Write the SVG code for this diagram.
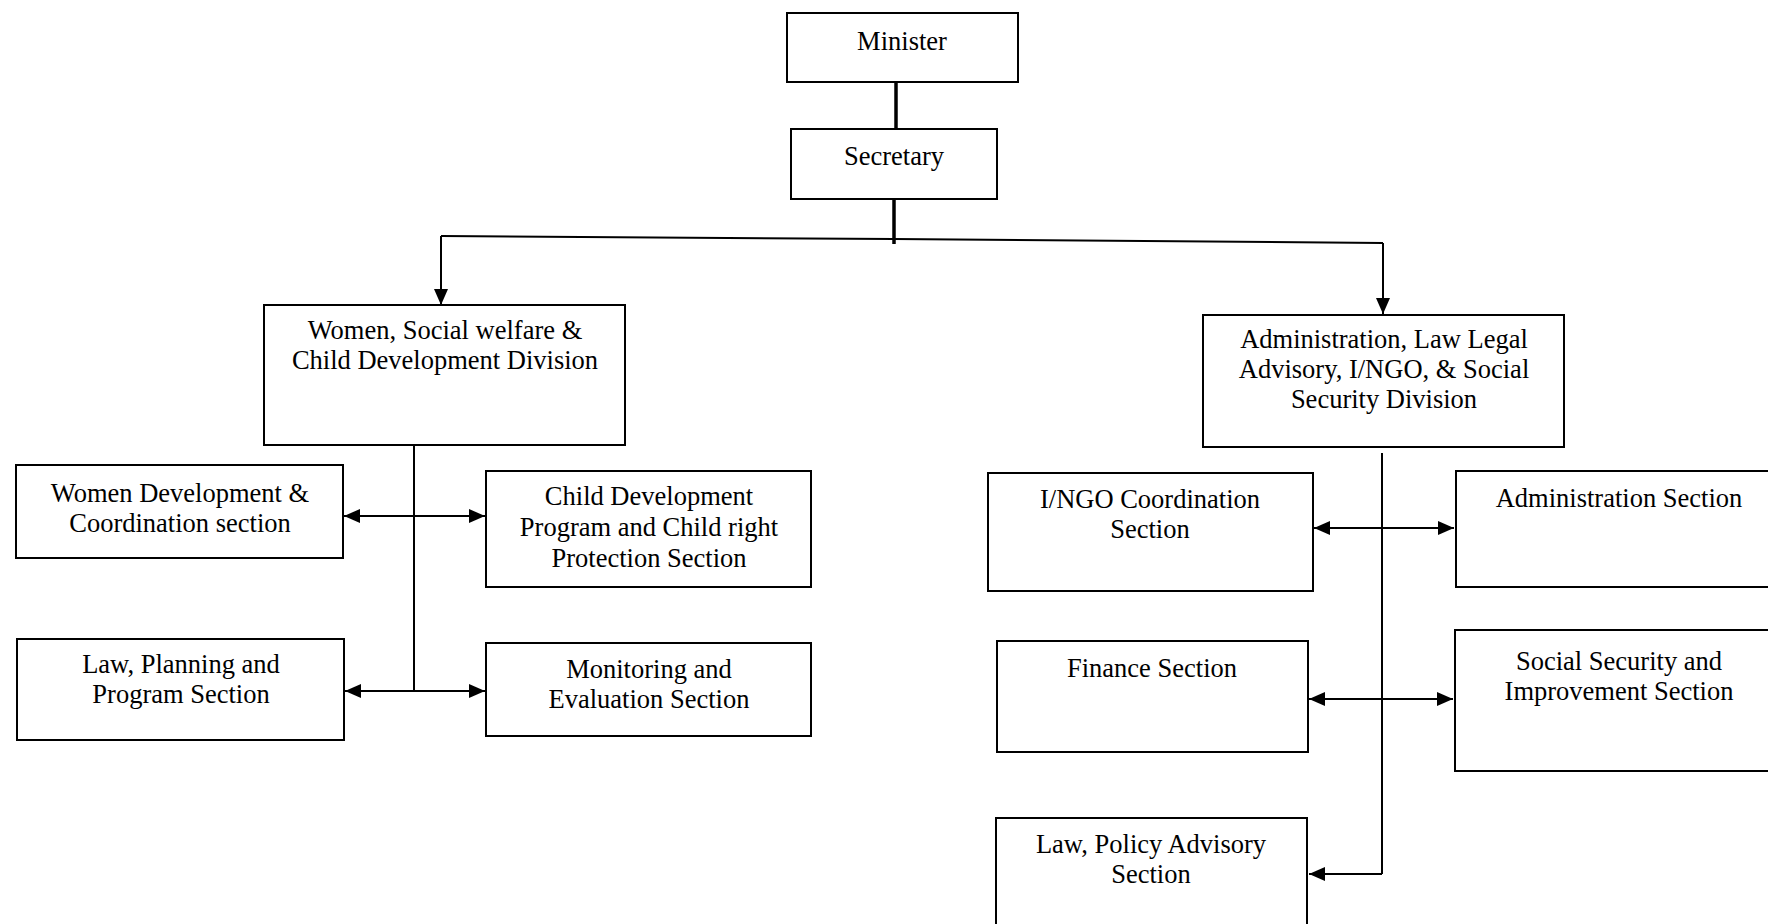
<svg xmlns="http://www.w3.org/2000/svg" width="1768" height="924" viewBox="0 0 1768 924">
  <style>
    .box { fill: #ffffff; stroke: #000000; stroke-width: 2; }
    .lbl { font-family: "Liberation Serif", "Times New Roman", serif; font-size: 26.5px; fill: #000000; text-anchor: middle; }
    .link { fill: none; stroke: #000000; stroke-width: 2; }
    .thick { fill: none; stroke: #000000; stroke-width: 3.5; }
  </style>
  <defs>
    <marker id="arrow" markerUnits="userSpaceOnUse" markerWidth="16" markerHeight="14" refX="16" refY="7" orient="auto-start-reverse">
      <path d="M0,0 L16,7 L0,14 z" fill="#000000"/>
    </marker>
  </defs>
  <rect width="1768" height="924" fill="#ffffff"/>

  <!-- connectors -->
  <g id="connectors">
    <line class="thick" x1="896" y1="82" x2="896" y2="129"/>
    <line class="thick" x1="894" y1="199" x2="894" y2="244"/>
    <polyline class="link" points="441,236 894,239 1383,243"/>
    <line class="link" x1="441" y1="236" x2="441" y2="305" marker-end="url(#arrow)"/>
    <line class="link" x1="1383" y1="243" x2="1383" y2="314" marker-end="url(#arrow)"/>

    <!-- women / child division branches -->
    <line class="link" x1="414" y1="445" x2="414" y2="691"/>
    <line class="link" x1="344" y1="516" x2="485" y2="516" marker-start="url(#arrow)" marker-end="url(#arrow)"/>
    <line class="link" x1="345" y1="691" x2="485" y2="691" marker-start="url(#arrow)" marker-end="url(#arrow)"/>

    <!-- administration division branches -->
    <line class="link" x1="1382" y1="453" x2="1382" y2="874"/>
    <line class="link" x1="1314" y1="528" x2="1454" y2="528" marker-start="url(#arrow)" marker-end="url(#arrow)"/>
    <line class="link" x1="1309" y1="699" x2="1453" y2="699" marker-start="url(#arrow)" marker-end="url(#arrow)"/>
    <line class="link" x1="1382" y1="874" x2="1309" y2="874" marker-end="url(#arrow)"/>
  </g>

  <g id="minister">
    <rect class="box" x="787" y="13" width="231" height="69"/>
    <text class="lbl" x="902" y="50">Minister</text>
  </g>
  <g id="secretary">
    <rect class="box" x="791" y="129" width="206" height="70"/>
    <text class="lbl" x="894" y="165">Secretary</text>
  </g>

  <g id="women-division">
    <rect class="box" x="264" y="305" width="361" height="140"/>
    <text class="lbl" x="445" y="339">Women, Social welfare &amp;</text>
    <text class="lbl" x="445" y="369">Child Development Division</text>
  </g>
  <g id="admin-division">
    <rect class="box" x="1203" y="315" width="361" height="132"/>
    <text class="lbl" x="1384" y="348">Administration, Law Legal</text>
    <text class="lbl" x="1384" y="378">Advisory, I/NGO, &amp; Social</text>
    <text class="lbl" x="1384" y="408">Security Division</text>
  </g>

  <g id="women-development">
    <rect class="box" x="16" y="465" width="327" height="93"/>
    <text class="lbl" x="180" y="502">Women Development &amp;</text>
    <text class="lbl" x="180" y="532">Coordination section</text>
  </g>
  <g id="child-development">
    <rect class="box" x="486" y="471" width="325" height="116"/>
    <text class="lbl" x="649" y="505">Child Development</text>
    <text class="lbl" x="649" y="536">Program and Child right</text>
    <text class="lbl" x="649" y="567">Protection Section</text>
  </g>
  <g id="law-planning">
    <rect class="box" x="17" y="639" width="327" height="101"/>
    <text class="lbl" x="181" y="673">Law, Planning and</text>
    <text class="lbl" x="181" y="703">Program Section</text>
  </g>
  <g id="monitoring">
    <rect class="box" x="486" y="643" width="325" height="93"/>
    <text class="lbl" x="649" y="678">Monitoring and</text>
    <text class="lbl" x="649" y="708">Evaluation Section</text>
  </g>

  <g id="ingo-coordination">
    <rect class="box" x="988" y="473" width="325" height="118"/>
    <text class="lbl" x="1150" y="508">I/NGO Coordination</text>
    <text class="lbl" x="1150" y="538">Section</text>
  </g>
  <g id="administration">
    <rect class="box" x="1456" y="471" width="326" height="116"/>
    <text class="lbl" x="1619" y="507">Administration Section</text>
  </g>
  <g id="finance">
    <rect class="box" x="997" y="641" width="311" height="111"/>
    <text class="lbl" x="1152" y="677">Finance Section</text>
  </g>
  <g id="social-security">
    <rect class="box" x="1455" y="630" width="327" height="141"/>
    <text class="lbl" x="1619" y="670">Social Security and</text>
    <text class="lbl" x="1619" y="700">Improvement Section</text>
  </g>
  <g id="law-policy">
    <rect class="box" x="996" y="818" width="311" height="120"/>
    <text class="lbl" x="1151" y="853">Law, Policy Advisory</text>
    <text class="lbl" x="1151" y="883">Section</text>
  </g>
</svg>
